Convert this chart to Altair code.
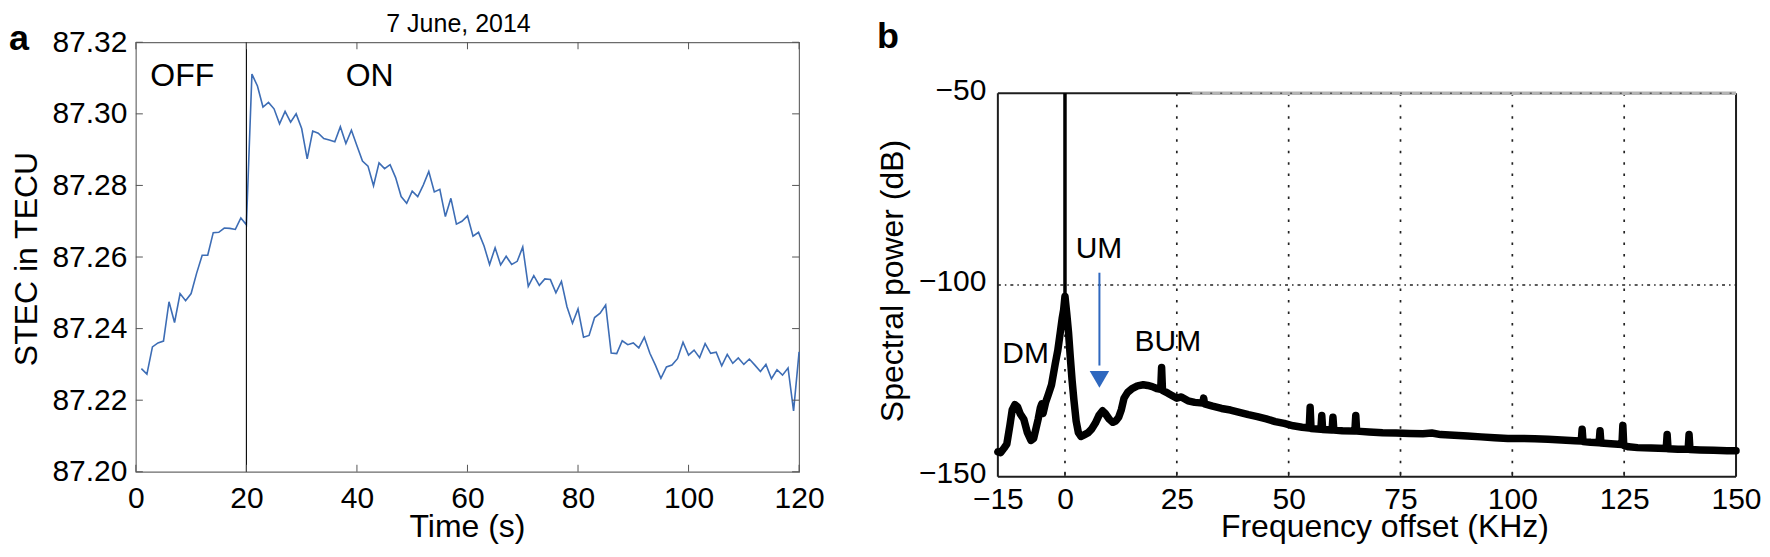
import altair as alt
import pandas as pd

FONT = "Liberation Sans"

# ---------------- panel a data ----------------
time_s = list(range(1, 121))
stec_tecu = [
    87.2288, 87.2273, 87.2349, 87.2360, 87.2365, 87.2475, 87.2417, 87.2498, 87.2478, 87.2498,
    87.2555, 87.2605, 87.2605, 87.2668, 87.2669, 87.2681, 87.2680, 87.2677, 87.2709, 87.2690,
    87.3111, 87.3078, 87.3019, 87.3032, 87.3014, 87.2972, 87.3007, 87.2977, 87.3000, 87.2959,
    87.2874, 87.2952, 87.2946, 87.2931, 87.2927, 87.2922, 87.2964, 87.2917, 87.2954, 87.2911,
    87.2868, 87.2854, 87.2799, 87.2863, 87.2847, 87.2858, 87.2822, 87.2769, 87.2750, 87.2784,
    87.2769, 87.2801, 87.2839, 87.2782, 87.2789, 87.2713, 87.2764, 87.2692, 87.2700, 87.2715,
    87.2658, 87.2669, 87.2631, 87.2579, 87.2626, 87.2578, 87.2602, 87.2579, 87.2588, 87.2628,
    87.2518, 87.2548, 87.2521, 87.2539, 87.2537, 87.2500, 87.2532, 87.2461, 87.2415, 87.2455,
    87.2376, 87.2381, 87.2431, 87.2443, 87.2466, 87.2332, 87.2330, 87.2366, 87.2355, 87.2360,
    87.2346, 87.2376, 87.2331, 87.2298, 87.2261, 87.2293, 87.2298, 87.2316, 87.2362, 87.2326,
    87.2340, 87.2319, 87.2358, 87.2331, 87.2334, 87.2296, 87.2328, 87.2303, 87.2318, 87.2300,
    87.2315, 87.2298, 87.2280, 87.2300, 87.2260, 87.2285, 87.2270, 87.2290, 87.2170, 87.2335,
]
switch_on_s = [20]
a_x_ticks = [0, 20, 40, 60, 80, 100, 120]
a_y_ticks = [87.20, 87.22, 87.24, 87.26, 87.28, 87.30, 87.32]
a_labels = ["OFF", "ON"]
a_label_t = [8.4, 42.3]
a_label_v = [87.3105, 87.3105]

# ---------------- panel b data ----------------
freq_khz = [
    -15.0, -14.4, -13.6, -13.0, -12.3, -11.8, -11.2, -10.6, -10.0, -9.2,
    -8.4, -7.6, -7.0, -6.5, -6.0, -5.5, -5.2, -4.9, -4.3, -3.7,
    -3.0, -2.2, -1.6, -1.1, -0.6, -0.3, 0.0, 0.4, 0.8, 1.2,
    1.6, 2.0, 2.5, 3.0, 3.6, 4.4, 5.2, 6.0, 6.8, 7.6,
    8.4, 9.0, 9.9, 10.7, 11.4, 12.0, 12.6, 13.2, 14.0, 15.0,
    16.2, 17.5, 18.5, 19.5, 20.5, 21.4, 21.6, 21.8, 23.0, 24.2,
    25.0, 26.0, 27.5, 29.0, 30.8, 31.0, 31.2, 33.0, 35.0, 37.0,
    39.0, 41.0, 43.0, 45.0, 47.0, 49.0, 51.0, 53.0, 54.6, 54.8,
    55.0, 57.2, 57.4, 57.6, 59.7, 59.9, 60.1, 62.0, 64.8, 65.0,
    65.2, 68.0, 71.0, 74.0, 77.0, 80.0, 82.0, 84.0, 87.0, 90.0,
    93.0, 96.0, 99.0, 102.0, 105.0, 108.0, 111.0, 114.0, 115.4, 115.6,
    115.8, 117.5, 119.4, 119.6, 119.8, 122.0, 124.5, 124.7, 124.9, 126.0,
    128.0, 131.0, 134.4, 134.6, 134.8, 137.0, 139.3, 139.5, 139.7, 142.0,
    145.0, 148.0, 150.0,
]
power_db = [
    -143.5, -143.7, -142.5, -141.5, -136.5, -132.6, -131.2, -131.8, -133.6, -135.0,
    -138.5, -140.5, -140.0, -137.5, -135.0, -132.0, -131.0, -133.5, -130.5, -128.5,
    -126.0, -120.7, -117.0, -112.8, -108.5, -106.5, -103.0, -107.5, -112.5, -119.0,
    -125.0, -130.0, -135.5, -138.5, -139.5, -139.0, -138.5, -137.5, -136.0, -134.0,
    -132.8, -133.5, -135.0, -135.8, -135.4, -134.5, -132.5, -129.5, -128.0, -127.0,
    -126.3, -126.0, -126.2, -126.5, -127.0, -127.2, -121.5, -127.5, -128.2, -129.0,
    -129.5, -129.2, -130.2, -130.6, -130.8, -129.5, -131.0, -131.6, -132.2, -132.6,
    -133.2, -133.8, -134.3, -134.9, -135.6, -136.1, -136.7, -137.1, -137.3, -131.9,
    -137.4, -137.6, -134.0, -137.7, -137.8, -134.5, -137.8, -138.0, -138.1, -134.0,
    -138.1, -138.3, -138.5, -138.6, -138.7, -138.8, -138.6, -139.0, -139.2, -139.4,
    -139.6, -139.8, -140.0, -140.0, -140.1, -140.2, -140.4, -140.6, -140.7, -137.6,
    -140.8, -141.0, -141.1, -138.0, -141.2, -141.4, -141.6, -136.6, -141.8, -142.2,
    -142.4, -142.5, -142.6, -139.0, -142.7, -142.8, -142.8, -139.0, -142.9, -143.0,
    -143.1, -143.2, -143.2,
]
carrier_khz = [0]
carrier_top_db = [-50]
carrier_base_db = [-103]
b_grid_x = [0, 25, 50, 75, 100, 125]
b_grid_y = [-100]
b_x_ticks = [-15, 0, 25, 50, 75, 100, 125, 150]
b_y_ticks = [-150, -100, -50]
b_labels = ["DM", "UM", "BUM"]
b_label_f = [-8.8, 7.6, 23.0]
b_label_p = [-118.0, -90.5, -114.8]
arrow_f = [7.7]
arrow_start_db = [-96.8]
arrow_end_db = [-121.0]
arrow_head_db = [-124.6]
top_overlay_from = [28]
top_overlay_to = [150]

# ---------------- layout constants ----------------
A_W, A_H = 664, 430          # panel a plot area (its top is the shared origin)
B_W, B_TOT = 739, 435        # panel b view (shares its top with panel a)
B_TOP = 51                   # where panel b's frame starts inside its view
TICK_FS = 30
TITLE_FS = 32

# ================= panel a =================
xa_scale = alt.Scale(domain=[0, 120], nice=False, zero=False)
ya_scale = alt.Scale(domain=[87.20, 87.32], nice=False, zero=False)
xa_axis = alt.Axis(values=a_x_ticks, title=None, domain=False, ticks=False, grid=False,
                   labelFont=FONT, labelFontSize=TICK_FS, labelColor="black",
                   labelPadding=12, labelFlush=False, labelOverlap=False, format="d")
ya_axis = alt.Axis(values=a_y_ticks, title=None, domain=False, ticks=False, grid=False,
                   labelFont=FONT, labelFontSize=TICK_FS, labelColor="black",
                   labelPadding=9, labelFlush=False, labelOverlap=False, format=".2f")


def XA(f):
    return alt.X(f"{f}:Q", scale=xa_scale, axis=xa_axis)


def YA(f):
    return alt.Y(f"{f}:Q", scale=ya_scale, axis=ya_axis)


def pix_text(txt, x, y, **kw):
    return alt.Chart(pd.DataFrame({"txt": [txt]})).mark_text(font=FONT, **kw).encode(
        x=alt.value(x), y=alt.value(y), text="txt:N")


one = pd.DataFrame({"k": [0]})

df_a = pd.DataFrame({"t": time_s, "v": stec_tecu})
line_a = alt.Chart(df_a).mark_line(color="#3d6db5", strokeWidth=1.6).encode(x=XA("t"), y=YA("v"))

switch_rule = alt.Chart(pd.DataFrame({"t": switch_on_s})).mark_rule(
    color="black", strokeWidth=1.1).encode(x=XA("t"), y=alt.value(0), y2=alt.value(A_H))

df_axt = pd.DataFrame({"t": a_x_ticks})
df_ayt = pd.DataFrame({"v": a_y_ticks})
tk = dict(color="#555555", strokeWidth=1)
a_tick_b = alt.Chart(df_axt).mark_rule(**tk).encode(x=XA("t"), y=alt.value(A_H), y2=alt.value(A_H - 7))
a_tick_t = alt.Chart(df_axt).mark_rule(**tk).encode(x=XA("t"), y=alt.value(0), y2=alt.value(7))
a_tick_l = alt.Chart(df_ayt).mark_rule(**tk).encode(y=YA("v"), x=alt.value(0), x2=alt.value(7))
a_tick_r = alt.Chart(df_ayt).mark_rule(**tk).encode(y=YA("v"), x=alt.value(A_W), x2=alt.value(A_W - 7))

a_text = alt.Chart(pd.DataFrame({"t": a_label_t, "v": a_label_v, "lab": a_labels})).mark_text(
    font=FONT, fontSize=32, color="black", baseline="middle", align="center"
).encode(x=XA("t"), y=YA("v"), text="lab:N")

# invisible spacer that fixes the top of the layout 33 px above the plot
a_spacer = alt.Chart(one).mark_rule(color="white", strokeWidth=1).encode(
    x=alt.value(0), y=alt.value(-32.5), y2=alt.value(-31))

a_title = pix_text("7 June, 2014", 323, -10, fontSize=25, color="black",
                   align="center", baseline="alphabetic")
a_letter = pix_text("a", -127, 8, fontSize=36, fontWeight="bold", color="black",
                    align="left", baseline="alphabetic")
a_xtitle = pix_text("Time (s)", A_W / 2, 495, fontSize=TITLE_FS, color="black",
                    align="center", baseline="alphabetic")
a_ytitle = pix_text("STEC in TECU", -109, A_H / 2 + 2, fontSize=TITLE_FS, color="black",
                    align="center", baseline="middle", angle=270)

chart_a = alt.layer(
    line_a, switch_rule, a_tick_b, a_tick_t, a_tick_l, a_tick_r, a_text,
    a_spacer, a_title, a_letter, a_xtitle, a_ytitle
).properties(width=A_W, height=A_H,
             view=alt.ViewBackground(stroke="#6b6b6b", strokeWidth=1.2))

# ================= panel b =================
xb_scale = alt.Scale(domain=[-15, 150], nice=False, zero=False)
yb_scale = alt.Scale(domain=[-150, -50], nice=False, zero=False, range=[B_TOT, B_TOP])
xb_axis = alt.Axis(values=b_x_ticks, title=None, domain=False, ticks=False, grid=False,
                   labelFont=FONT, labelFontSize=TICK_FS, labelColor="black",
                   labelPadding=8, labelFlush=False, labelOverlap=False, format="d")
yb_axis = alt.Axis(values=b_y_ticks, title=None, domain=False, ticks=False, grid=False,
                   labelFont=FONT, labelFontSize=TICK_FS, labelColor="black",
                   labelPadding=12, labelOffset=-3, labelFlush=False, labelOverlap=False,
                   format="d")


def XB(f):
    return alt.X(f"{f}:Q", scale=xb_scale, axis=xb_axis)


def YB(f):
    return alt.Y(f"{f}:Q", scale=yb_scale, axis=yb_axis)


FR = dict(color="#1e1e1e", strokeWidth=2)
frame_l = alt.Chart(one).mark_rule(**FR).encode(x=alt.value(0), y=alt.value(B_TOP), y2=alt.value(B_TOT))
frame_r = alt.Chart(one).mark_rule(**FR).encode(x=alt.value(B_W), y=alt.value(B_TOP), y2=alt.value(B_TOT))
frame_t = alt.Chart(one).mark_rule(**FR).encode(y=alt.value(B_TOP), x=alt.value(0), x2=alt.value(B_W))
frame_b = alt.Chart(one).mark_rule(**FR).encode(y=alt.value(B_TOT), x=alt.value(0), x2=alt.value(B_W))

df_top = pd.DataFrame({"f": top_overlay_from, "f2": top_overlay_to, "p": [-50]})
top_overlay = alt.Chart(df_top).mark_rule(color="#b4b4b4", strokeWidth=3.5).encode(
    x=XB("f"), x2="f2:Q", y=YB("p"))
top_dots = alt.Chart(df_top).mark_rule(color="#555555", strokeWidth=1.6, strokeDash=[2, 8]).encode(
    x=XB("f"), x2="f2:Q", y=YB("p"))

grid_v = alt.Chart(pd.DataFrame({"f": b_grid_x})).mark_rule(
    color="#222222", strokeWidth=1.7, strokeDash=[2.5, 9]).encode(
    x=XB("f"), y=alt.value(B_TOP), y2=alt.value(B_TOT))
grid_h = alt.Chart(pd.DataFrame({"p": b_grid_y})).mark_rule(
    color="#222222", strokeWidth=1.7, strokeDash=[3, 4, 1.5, 4]).encode(
    y=YB("p"), x=alt.value(0), x2=alt.value(B_W))
b_tick_b = alt.Chart(pd.DataFrame({"f": b_grid_x})).mark_rule(
    color="#222222", strokeWidth=1.4).encode(x=XB("f"), y=alt.value(B_TOT), y2=alt.value(B_TOT - 5))

df_b = pd.DataFrame({"f": freq_khz, "p": power_db})
spectrum = alt.Chart(df_b).mark_line(
    color="black", strokeWidth=7.5, strokeJoin="round", strokeCap="round").encode(x=XB("f"), y=YB("p"))

carrier = alt.Chart(pd.DataFrame({"f": carrier_khz, "p": carrier_top_db, "p2": carrier_base_db})).mark_rule(
    color="black", strokeWidth=3.5).encode(x=XB("f"), y=YB("p"), y2="p2:Q")

arrow_line = alt.Chart(pd.DataFrame({"f": arrow_f, "p": arrow_start_db, "p2": arrow_end_db})).mark_rule(
    color="#2f68bf", strokeWidth=2).encode(x=XB("f"), y=YB("p"), y2="p2:Q")
arrow_head = alt.Chart(pd.DataFrame({"f": arrow_f, "p": arrow_head_db})).mark_point(
    shape="triangle-down", filled=True, size=380, color="#2f68bf", opacity=1).encode(x=XB("f"), y=YB("p"))

b_text = alt.Chart(pd.DataFrame({"f": b_label_f, "p": b_label_p, "lab": b_labels})).mark_text(
    font=FONT, fontSize=30, color="black", baseline="middle", align="center"
).encode(x=XB("f"), y=YB("p"), text="lab:N")

b_letter = pix_text("b", -121, 6, fontSize=36, fontWeight="bold", color="black",
                    align="left", baseline="alphabetic")
b_xtitle = pix_text("Frequency offset (KHz)", B_W / 2 + 18, 495, fontSize=TITLE_FS, color="black",
                    align="center", baseline="alphabetic")
b_ytitle = pix_text("Spectral power (dB)", -105, (B_TOP + B_TOT) / 2 - 4, fontSize=TITLE_FS,
                    color="black", align="center", baseline="middle", angle=270)

chart_b = alt.layer(
    grid_v, grid_h, b_tick_b, frame_l, frame_r, frame_t, frame_b, top_overlay, top_dots,
    spectrum, carrier, arrow_line, arrow_head, b_text, b_letter, b_xtitle, b_ytitle
).properties(width=B_W, height=B_TOT,
             view=alt.ViewBackground(strokeWidth=0, stroke="white"))

chart = alt.hconcat(chart_a, chart_b, spacing=52).properties(padding=0)

chart.save("out.html", embed_options={"renderer": "svg", "actions": False})
